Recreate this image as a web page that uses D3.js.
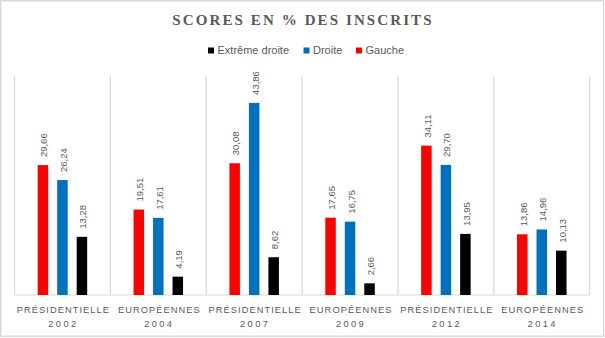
<!DOCTYPE html>
<html><head><meta charset="utf-8">
<script src="https://cdn.jsdelivr.net/npm/d3@7"></script>
<style>html,body{margin:0;padding:0;background:#fff;}svg{display:block;}</style>
</head><body>
<svg id="c" width="605" height="338"></svg>
<script>
const categories = [["PRÉSIDENTIELLE","2002"],["EUROPÉENNES","2004"],["PRÉSIDENTIELLE","2007"],["EUROPÉENNES","2009"],["PRÉSIDENTIELLE","2012"],["EUROPÉENNES","2014"]];
const seriesNames = ["Gauche","Droite","Extrême droite"];
const gauche = [29.66,19.51,30.08,17.65,34.11,13.86];
const droite = [26.24,17.61,43.86,16.75,29.70,14.96];
const extreme = [13.28,4.19,8.62,2.66,13.95,10.13];
const colors = {"Gauche":"#ff0000","Droite":"#0070c0","Extrême droite":"#000000"};
const legendOrder = ["Extrême droite","Droite","Gauche"];
const seriesValues = {"Gauche":gauche,"Droite":droite,"Extrême droite":extreme};

const svg = d3.select("#c");
svg.append("rect").attr("x",0.75).attr("y",0.75).attr("width",603).attr("height",335.5)
  .attr("fill","#fff").attr("stroke","#d9d9d9").attr("stroke-width",1.5);

const pL=14.5, pR=589.7, pT=76, pB=295;
const x = d3.scaleBand().domain(d3.range(categories.length)).range([pL,pR]).padding(0);
const y = d3.scaleLinear().domain([0,50]).range([pB,pT]);

const gl = d3.range(categories.length+1).map(i=> i<categories.length ? x(i) : pR);
svg.append("g").selectAll("line").data(gl).join("line")
  .attr("x1",d=>d).attr("x2",d=>d).attr("y1",pT).attr("y2",pB)
  .attr("stroke","#d9d9d9").attr("stroke-width",1.2);
svg.append("line").attr("x1",pL).attr("x2",pR).attr("y1",pB).attr("y2",pB)
  .attr("stroke","#d9d9d9").attr("stroke-width",1.2);

const bw = 10.5;
seriesNames.forEach((s,si)=>{
  const g = svg.append("g");
  const vals = seriesValues[s];
  const off = (si-1)*19.5;
  g.selectAll("rect").data(vals).join("rect")
    .attr("x",(d,i)=>x(i)+x.bandwidth()/2+off-bw/2)
    .attr("width",bw)
    .attr("y",d=>y(d)).attr("height",d=>pB-y(d))
    .attr("fill",colors[s]);
  g.selectAll("text").data(vals).join("text")
    .attr("transform",(d,i)=>`translate(${x(i)+x.bandwidth()/2+off+4.5},${y(d)-8}) rotate(-90)`)
    .attr("font-family","Liberation Sans, Arial, sans-serif").attr("font-size",9.5)
    .attr("fill","#595959")
    .text(d=>d.toFixed(2).replace(".",","));
});

const cl = svg.append("g").attr("font-family","Liberation Sans, Arial, sans-serif").attr("font-size",9.3)
  .attr("fill","#595959").attr("text-anchor","middle");
categories.forEach((c,i)=>{
  cl.append("text").attr("x",x(i)+x.bandwidth()/2+1).attr("y",312.5).attr("letter-spacing","1.05px").text(c[0]);
  cl.append("text").attr("x",x(i)+x.bandwidth()/2+1).attr("y",326.5).attr("letter-spacing","2.4px").text(c[1]);
});

svg.append("text").attr("x",303).attr("y",25).attr("text-anchor","middle")
  .attr("font-family","Liberation Serif, serif").attr("font-size",15).attr("font-weight","600")
  .attr("letter-spacing","2.1px").attr("fill","#595959").text("SCORES EN % DES INSCRITS");

const legX = [208,303.5,356];
const lg = svg.append("g").attr("font-family","Liberation Sans, Arial, sans-serif").attr("font-size",11).attr("fill","#595959");
legendOrder.forEach((s,i)=>{
  lg.append("rect").attr("x",legX[i]).attr("y",47.5).attr("width",6).attr("height",6).attr("fill",colors[s]);
  lg.append("text").attr("x",legX[i]+9.5).attr("y",54).text(s);
});
</script>
</body></html>
